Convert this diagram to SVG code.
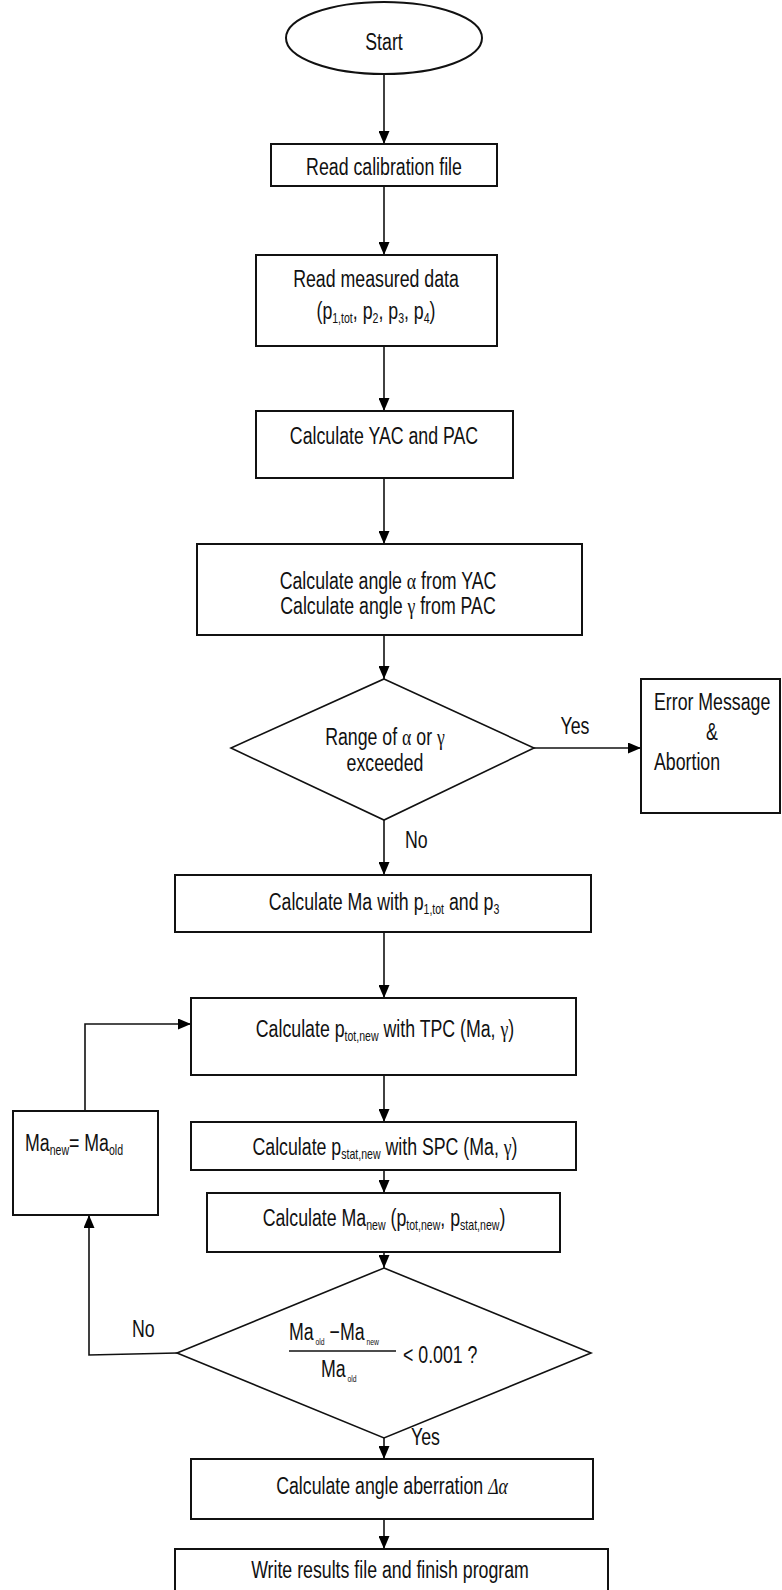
<svg xmlns="http://www.w3.org/2000/svg" width="782" height="1590" viewBox="0 0 782 1590">
<style>
.n{fill:#fff;stroke:#111;stroke-width:2}
.c{fill:none;stroke:#111;stroke-width:1.6}
.t{font-family:"Liberation Sans",Arial,sans-serif;font-size:23.5px;fill:#111}
.m{text-anchor:middle}
.s{font-size:14px}
.ss{font-size:9px}
.g{font-family:"Liberation Serif",serif}
</style>
<defs>
<marker id="a" markerUnits="userSpaceOnUse" markerWidth="13" markerHeight="11" refX="13" refY="5.5" orient="auto">
<path d="M0,0 L13,5.5 L0,11 z" fill="#000"/>
</marker>
</defs>
<rect width="782" height="1590" fill="#fff"/>

<g id="connectors">
<line class="c" x1="384" y1="74" x2="384" y2="144" marker-end="url(#a)"/>
<line class="c" x1="384" y1="186" x2="384" y2="255" marker-end="url(#a)"/>
<line class="c" x1="384" y1="346" x2="384" y2="411" marker-end="url(#a)"/>
<line class="c" x1="384" y1="478" x2="384" y2="544" marker-end="url(#a)"/>
<line class="c" x1="384" y1="635" x2="384" y2="679" marker-end="url(#a)"/>
<line class="c" x1="534" y1="748" x2="641" y2="748" marker-end="url(#a)"/>
<line class="c" x1="384" y1="820" x2="384" y2="875" marker-end="url(#a)"/>
<line class="c" x1="384" y1="932" x2="384" y2="998" marker-end="url(#a)"/>
<line class="c" x1="384" y1="1075" x2="384" y2="1122" marker-end="url(#a)"/>
<line class="c" x1="384" y1="1170" x2="384" y2="1193" marker-end="url(#a)"/>
<line class="c" x1="384" y1="1252" x2="384" y2="1268" marker-end="url(#a)"/>
<line class="c" x1="384" y1="1438" x2="384" y2="1459" marker-end="url(#a)"/>
<line class="c" x1="384" y1="1519" x2="384" y2="1549" marker-end="url(#a)"/>
<polyline class="c" points="177,1353 89,1355 89,1215" marker-end="url(#a)"/>
<polyline class="c" points="85,1111 85,1024 191,1024" marker-end="url(#a)"/>
<text class="t m" transform="translate(575,734) scale(0.755,1)">Yes</text>
<text class="t" transform="translate(405,848) scale(0.755,1)">No</text>
<text class="t" transform="translate(132,1337) scale(0.755,1)">No</text>
<text class="t" transform="translate(411,1445) scale(0.755,1)">Yes</text>
</g>

<g id="start">
<ellipse class="n" cx="384" cy="38" rx="98" ry="36"/>
<text class="t m" transform="translate(384,50) scale(0.755,1)">Start</text>
</g>

<g id="read-calibration">
<rect class="n" x="271" y="144" width="226" height="42"/>
<text class="t m" transform="translate(384,175) scale(0.755,1)">Read calibration file</text>
</g>

<g id="read-measured">
<rect class="n" x="256" y="255" width="241" height="91"/>
<text class="t m" transform="translate(376,287) scale(0.755,1)">Read measured data</text>
<text class="t m" transform="translate(376,319) scale(0.755,1)">(p<tspan class="s" dy="4">1,tot</tspan><tspan dy="-4">, p</tspan><tspan class="s" dy="4">2</tspan><tspan dy="-4">, p</tspan><tspan class="s" dy="4">3</tspan><tspan dy="-4">, p</tspan><tspan class="s" dy="4">4</tspan><tspan dy="-4">)</tspan></text>
</g>

<g id="calc-yac-pac">
<rect class="n" x="256" y="411" width="257" height="67"/>
<text class="t m" transform="translate(384,444) scale(0.755,1)">Calculate YAC and PAC</text>
</g>

<g id="calc-angles">
<rect class="n" x="197" y="544" width="385" height="91"/>
<text class="t m" transform="translate(388,589) scale(0.755,1)">Calculate angle <tspan class="g">α</tspan> from YAC</text>
<text class="t m" transform="translate(388,614) scale(0.755,1)">Calculate angle <tspan class="g">γ</tspan> from PAC</text>
</g>

<g id="range-check">
<polygon class="n" points="384,679 534,748 384,820 231,748" style="stroke-width:1.6"/>
<text class="t m" transform="translate(385,745) scale(0.755,1)">Range of <tspan class="g">α</tspan> or <tspan class="g">γ</tspan></text>
<text class="t m" transform="translate(385,771) scale(0.755,1)">exceeded</text>
</g>

<g id="error">
<rect class="n" x="641" y="679" width="139" height="134"/>
<text class="t" transform="translate(654,710) scale(0.755,1)">Error Message</text>
<text class="t m" transform="translate(712,740) scale(0.755,1)">&amp;</text>
<text class="t" transform="translate(654,770) scale(0.755,1)">Abortion</text>
</g>

<g id="calc-ma">
<rect class="n" x="175" y="875" width="416" height="57"/>
<text class="t m" transform="translate(384,910) scale(0.755,1)">Calculate Ma with p<tspan class="s" dy="4">1,tot</tspan><tspan dy="-4"> and p</tspan><tspan class="s" dy="4">3</tspan></text>
</g>

<g id="calc-ptot">
<rect class="n" x="191" y="998" width="385" height="77"/>
<text class="t m" transform="translate(385,1037) scale(0.755,1)">Calculate p<tspan class="s" dy="4">tot,new</tspan><tspan dy="-4"> with TPC (Ma, </tspan><tspan class="g">γ</tspan>)</text>
</g>

<g id="calc-pstat">
<rect class="n" x="191" y="1122" width="385" height="48"/>
<text class="t m" transform="translate(385,1155) scale(0.755,1)">Calculate p<tspan class="s" dy="4">stat,new</tspan><tspan dy="-4"> with SPC (Ma, </tspan><tspan class="g">γ</tspan>)</text>
</g>

<g id="ma-reset">
<rect class="n" x="13" y="1111" width="145" height="104"/>
<text class="t" transform="translate(25,1151) scale(0.755,1)">Ma<tspan class="s" dy="4">new</tspan><tspan dy="-4">= Ma</tspan><tspan class="s" dy="4">old</tspan></text>
</g>

<g id="calc-manew">
<rect class="n" x="207" y="1193" width="353" height="59"/>
<text class="t m" transform="translate(384,1226) scale(0.755,1)">Calculate Ma<tspan class="s" dy="4">new</tspan><tspan dy="-4"> (p</tspan><tspan class="s" dy="4">tot,new</tspan><tspan dy="-4">, p</tspan><tspan class="s" dy="4">stat,new</tspan><tspan dy="-4">)</tspan></text>
</g>

<g id="convergence">
<polygon class="n" points="384,1268 591,1353 384,1438 177,1353" style="stroke-width:1.6"/>
<text class="t" transform="translate(289,1340) scale(0.755,1)">Ma<tspan class="ss" dy="5"> old</tspan><tspan dy="-5">  −Ma</tspan><tspan class="ss" dy="5"> new</tspan></text>
<line x1="289" y1="1351" x2="396" y2="1351" stroke="#111" stroke-width="1.5"/>
<text class="t" transform="translate(321,1377) scale(0.755,1)">Ma<tspan class="ss" dy="5"> old</tspan></text>
<text class="t" transform="translate(403,1363) scale(0.755,1)">&lt; 0.001 ?</text>
</g>

<g id="aberration">
<rect class="n" x="191" y="1459" width="402" height="60"/>
<text class="t m" transform="translate(392,1494) scale(0.755,1)">Calculate angle aberration <tspan class="g" font-style="italic">Δα</tspan></text>
</g>

<g id="write-results">
<rect class="n" x="175" y="1549" width="433" height="50"/>
<text class="t m" transform="translate(390,1578) scale(0.755,1)">Write results file and finish program</text>
</g>
</svg>
